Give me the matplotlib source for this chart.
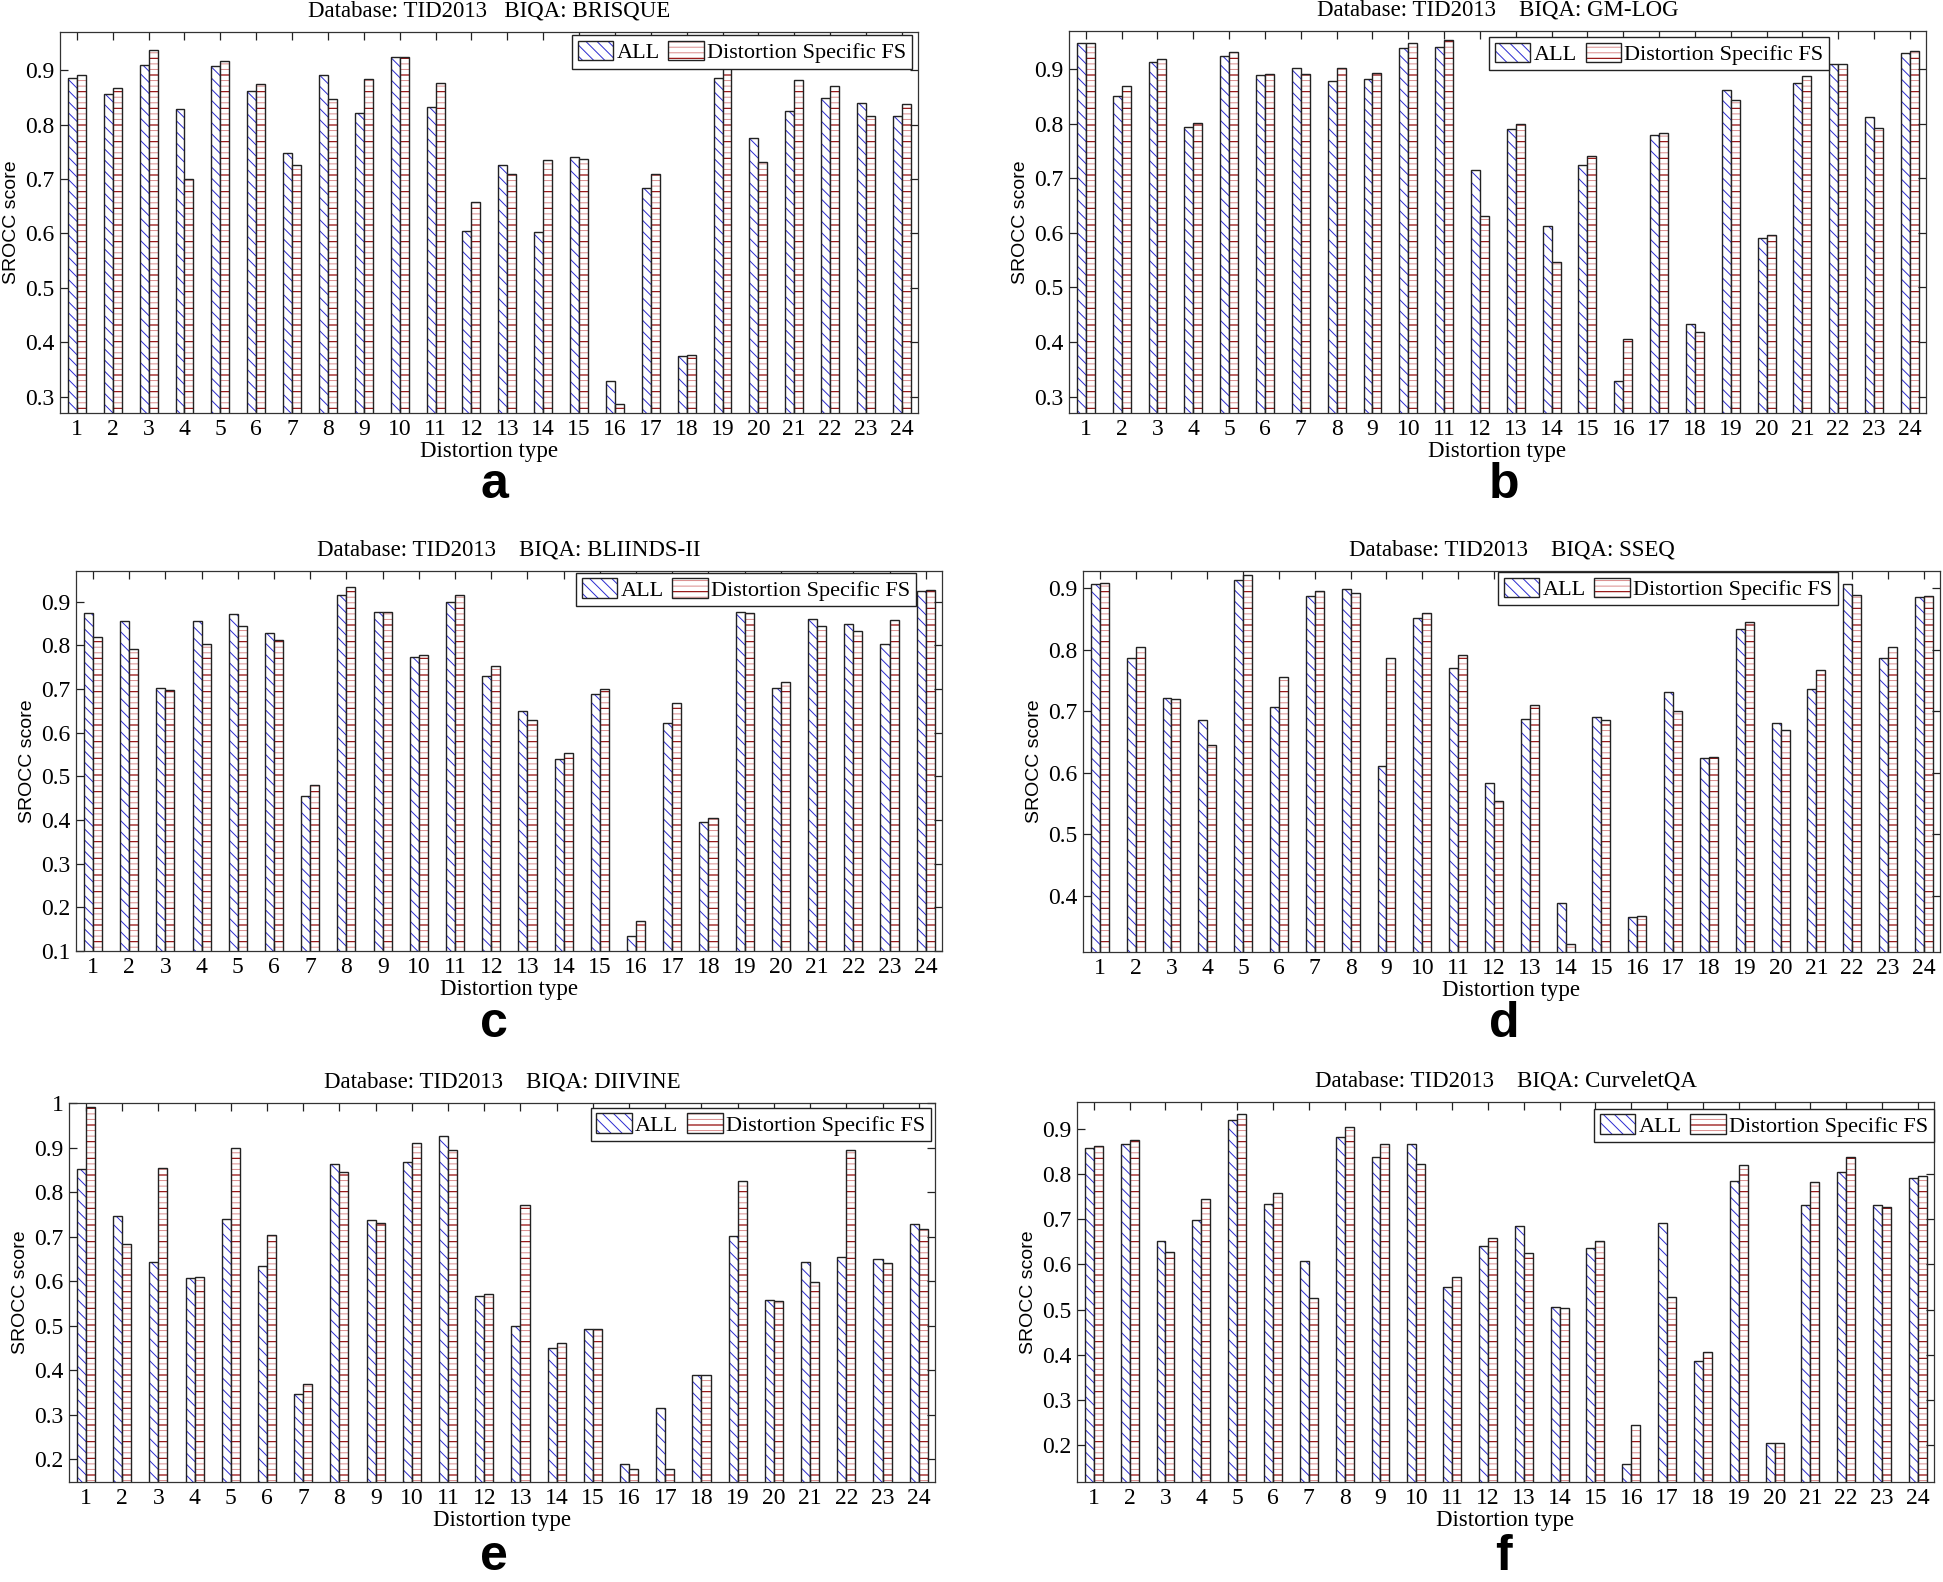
import numpy as np
import matplotlib
matplotlib.use('Agg')
import matplotlib.pyplot as plt
from matplotlib.ticker import MultipleLocator, FormatStrFormatter
from matplotlib.legend_handler import HandlerTuple


# Data (SROCC per distortion type, TID2013)
types = list(range(1, 25))

all_brisque = [0.886, 0.857, 0.910, 0.829, 0.907, 0.861, 0.748, 0.891, 0.822, 0.924, 0.832, 0.605,
               0.725, 0.603, 0.740, 0.328, 0.683, 0.374, 0.885, 0.776, 0.824, 0.849, 0.840, 0.815]
fs_brisque = [0.891, 0.867, 0.937, 0.700, 0.917, 0.874, 0.725, 0.847, 0.883, 0.924, 0.876, 0.657,
              0.710, 0.735, 0.737, 0.286, 0.710, 0.377, 0.904, 0.732, 0.881, 0.870, 0.815, 0.837]

all_gmlog = [0.948, 0.850, 0.913, 0.794, 0.925, 0.890, 0.903, 0.879, 0.882, 0.939, 0.940, 0.715,
             0.790, 0.612, 0.725, 0.328, 0.779, 0.433, 0.862, 0.590, 0.875, 0.909, 0.813, 0.930]
fs_gmlog = [0.948, 0.870, 0.918, 0.802, 0.931, 0.891, 0.891, 0.903, 0.893, 0.948, 0.953, 0.631,
            0.800, 0.547, 0.741, 0.405, 0.783, 0.419, 0.843, 0.596, 0.887, 0.909, 0.793, 0.933]

all_bliinds = [0.874, 0.855, 0.702, 0.855, 0.871, 0.828, 0.456, 0.914, 0.877, 0.773, 0.898, 0.729,
               0.650, 0.540, 0.689, 0.134, 0.621, 0.395, 0.875, 0.702, 0.860, 0.848, 0.804, 0.924]
fs_bliinds = [0.820, 0.792, 0.698, 0.804, 0.845, 0.812, 0.479, 0.934, 0.877, 0.777, 0.915, 0.752,
              0.630, 0.554, 0.700, 0.169, 0.668, 0.404, 0.874, 0.717, 0.843, 0.833, 0.857, 0.927]

all_sseq = [0.907, 0.786, 0.721, 0.686, 0.914, 0.707, 0.887, 0.898, 0.612, 0.851, 0.771, 0.584,
            0.688, 0.388, 0.691, 0.366, 0.731, 0.624, 0.834, 0.681, 0.737, 0.907, 0.786, 0.885]
fs_sseq = [0.909, 0.805, 0.720, 0.645, 0.921, 0.755, 0.896, 0.893, 0.786, 0.860, 0.792, 0.555,
           0.710, 0.322, 0.686, 0.367, 0.701, 0.625, 0.845, 0.669, 0.767, 0.889, 0.804, 0.887]

all_diivine = [0.852, 0.747, 0.642, 0.606, 0.740, 0.633, 0.347, 0.864, 0.738, 0.867, 0.925, 0.567,
               0.499, 0.449, 0.493, 0.189, 0.315, 0.390, 0.701, 0.558, 0.644, 0.655, 0.650, 0.728]
fs_diivine = [0.991, 0.683, 0.855, 0.610, 0.899, 0.703, 0.370, 0.844, 0.731, 0.910, 0.895, 0.571,
              0.770, 0.460, 0.493, 0.179, 0.179, 0.390, 0.825, 0.556, 0.599, 0.895, 0.640, 0.716]

all_curvelet = [0.859, 0.866, 0.653, 0.699, 0.920, 0.735, 0.607, 0.883, 0.839, 0.866, 0.551, 0.640,
                0.686, 0.506, 0.636, 0.157, 0.692, 0.387, 0.785, 0.205, 0.731, 0.804, 0.731, 0.792]
fs_curvelet = [0.863, 0.876, 0.627, 0.744, 0.933, 0.758, 0.526, 0.904, 0.866, 0.823, 0.573, 0.659,
               0.625, 0.504, 0.653, 0.244, 0.527, 0.405, 0.820, 0.205, 0.782, 0.838, 0.728, 0.795]

biqa_names = ['BRISQUE', 'GM-LOG', 'BLIINDS-II', 'SSEQ', 'DIIVINE', 'CurveletQA']
panel_letters = ['a', 'b', 'c', 'd', 'e', 'f']
series_all = [all_brisque, all_gmlog, all_bliinds, all_sseq, all_diivine, all_curvelet]
series_fs = [fs_brisque, fs_gmlog, fs_bliinds, fs_sseq, fs_diivine, fs_curvelet]
labels = ['ALL', 'Distortion Specific FS']


# Layout (pixel boxes: left, right, top, bottom)
W, H = 1943, 1582
boxes = [(60, 918, 32, 413), (1069, 1926, 31, 413),
         (76, 942, 571, 951), (1083, 1940, 571, 952),
         (69, 935, 1103, 1482), (1077, 1934, 1102, 1482)]
ylims = [(0.27, 0.97), (0.27, 0.97), (0.1, 0.97), (0.309, 0.928), (0.149, 1.0), (0.118, 0.96)]
legend_anchor = [(0.993, 0.991), (0.887, 0.984), (0.970, 0.995),
                 (0.881, 0.997), (0.995, 0.987), (1.0, 0.982)]
# baseline position of the panel letters
letter_pos = [(494, 498), (1504, 498), (494, 1037), (1504, 1037), (494, 1570), (1503, 1570)]
title_gap = ['   ', '    ', '    ', '    ', '    ', '    ']

serif = 'Liberation Serif'
sans = 'Liberation Sans'
bar_w = 0.25
blue = '#2a2ad0'
red_light = '#d98a8a'
red_dark = '#8b0000'
edge = '#222222'

plt.rcParams['hatch.linewidth'] = 0.7
plt.rcParams['font.family'] = serif

fig = plt.figure(figsize=(W / 100, H / 100), dpi=100)

x = np.array(types)
for i in range(6):
    l, r, t, b = boxes[i]
    ax = fig.add_axes([l / W, 1 - b / H, (r - l) / W, (b - t) / H])

    # ALL bars: blue diagonal hatch, then black outline
    h1 = ax.bar(x - bar_w / 2, series_all[i], width=bar_w, color='white',
                edgecolor=blue, hatch='\\\\\\', linewidth=0)
    h1e = ax.bar(x - bar_w / 2, series_all[i], width=bar_w, color='none',
                 edgecolor=edge, linewidth=1.0)
    # Distortion specific bars: light + dark red horizontal hatch
    h2 = ax.bar(x + bar_w / 2, series_fs[i], width=bar_w, color='white',
                edgecolor=red_light, hatch='---', linewidth=0)
    h2d = ax.bar(x + bar_w / 2, series_fs[i], width=bar_w, color='none',
                 edgecolor=red_dark, hatch='-', linewidth=0)
    h2e = ax.bar(x + bar_w / 2, series_fs[i], width=bar_w, color='none',
                 edgecolor=edge, linewidth=1.0)

    ax.set_xlim(0.53, 24.45)
    ax.set_ylim(*ylims[i])
    ax.set_xticks(x)
    ax.set_xticklabels([str(v) for v in types])
    ax.yaxis.set_major_locator(MultipleLocator(0.1))
    ax.yaxis.set_major_formatter(FormatStrFormatter('%g'))
    ax.tick_params(axis='both', which='major', direction='in', length=6, width=0.9,
                   labelsize=17, top=True, right=True, pad=4, color='#222222')
    for lab in ax.get_xticklabels() + ax.get_yticklabels():
        lab.set_fontfamily(serif)
    for sp in ax.spines.values():
        sp.set_linewidth(0.9)
        sp.set_color('#333333')

    ax.set_xlabel('Distortion type', fontsize=16.5, fontfamily=serif, labelpad=1)
    ax.set_ylabel('SROCC score', fontsize=14, fontfamily=sans, labelpad=4)
    ax.set_title('Database: TID2013' + title_gap[i] + 'BIQA: ' + biqa_names[i],
                 fontsize=16.5, fontfamily=serif, pad=11)

    leg = ax.legend([(h1, h1e), (h2, h2d, h2e)], labels,
                    handler_map={tuple: HandlerTuple(ndivide=1, pad=0)},
                    loc='upper right', bbox_to_anchor=legend_anchor[i], ncol=2,
                    prop={'family': serif, 'size': 16}, fancybox=False, framealpha=1,
                    edgecolor='#222222', borderpad=0.25, borderaxespad=0,
                    handlelength=1.6, handleheight=0.95, handletextpad=0.15,
                    columnspacing=0.4)
    leg.get_frame().set_linewidth(1.0)

    fig.text(letter_pos[i][0] / W, 1 - letter_pos[i][1] / H, panel_letters[i],
             fontsize=36, fontweight='bold', fontfamily=sans, ha='center', va='baseline')

fig.savefig('out.png', dpi=100)
